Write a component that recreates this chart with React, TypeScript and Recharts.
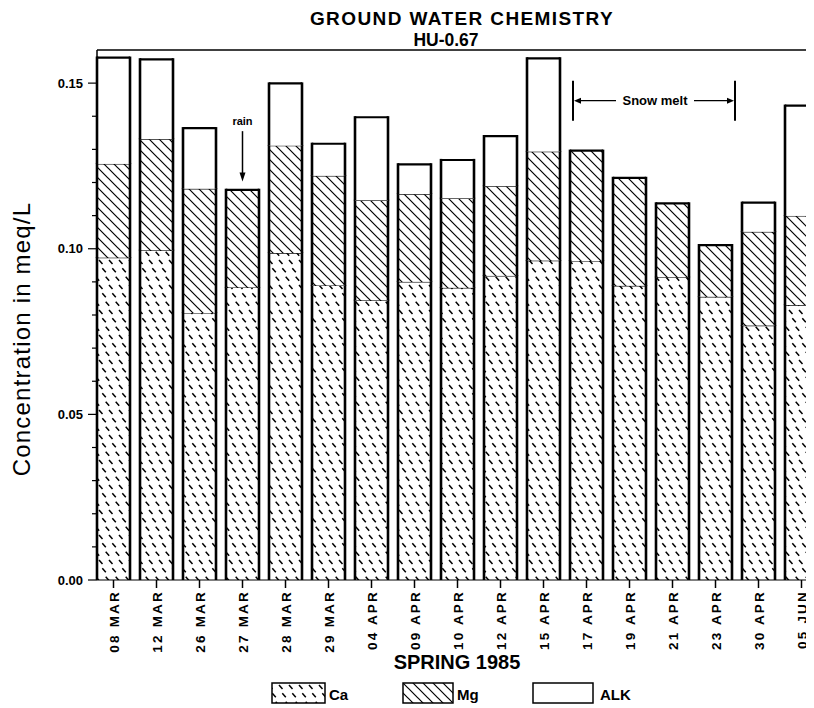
import React from "react";
import { BarChart, Bar, XAxis, YAxis, ReferenceLine } from "recharts";

const DATES = [
  "08 MAR", "12 MAR", "26 MAR", "27 MAR", "28 MAR", "29 MAR", "04 APR", "09 APR", "10 APR",
  "12 APR", "15 APR", "17 APR", "19 APR", "21 APR", "23 APR", "30 APR", "05 JUN",
];
const CA = [0.0973, 0.0995, 0.0806, 0.0883, 0.0987, 0.0889, 0.0844, 0.09, 0.0882, 0.0918, 0.0964, 0.0963, 0.0888, 0.0914, 0.0855, 0.0768, 0.083];
const MG = [0.0283, 0.0336, 0.0375, 0.0295, 0.0324, 0.0331, 0.0302, 0.0265, 0.027, 0.0271, 0.0329, 0.0333, 0.0326, 0.0223, 0.0156, 0.0283, 0.0269];
const ALK = [0.0321, 0.0241, 0.0183, 0, 0.0188, 0.0097, 0.0251, 0.009, 0.0116, 0.0151, 0.0282, 0, 0, 0, 0, 0.0088, 0.0333];

const Y_TICKS = [0, 0.01, 0.02, 0.03, 0.04, 0.05, 0.06, 0.07, 0.08, 0.09, 0.1, 0.11, 0.12, 0.13, 0.14, 0.15];
const Y_MAJOR = [0, 0.05, 0.1, 0.15];

const data = DATES.map((date, i) => ({ date, ca: CA[i], mg: MG[i], alk: ALK[i] }));

const FONT = '"Liberation Sans", Arial, Helvetica, sans-serif';

// one stacked segment: pattern fill, heavy side lines, lighter top line
function Segment(props: any) {
  const { x, y, width, height, fill, topW } = props;
  if (!height || height <= 0) return <g />;
  const r = x + width;
  const b = y + height;
  return (
    <g>
      <rect x={x} y={y} width={width} height={height} fill={fill} />
      <line x1={x} y1={y} x2={r} y2={y} stroke="#000" strokeWidth={topW} />
      <line x1={x} y1={y - topW / 2} x2={x} y2={b} stroke="#000" strokeWidth={2.6} />
      <line x1={r} y1={y - topW / 2} x2={r} y2={b} stroke="#000" strokeWidth={2.6} />
    </g>
  );
}

const caShape = (p: any) => <Segment {...p} topW={1.2} />;
const mgShape = (p: any) => <Segment {...p} topW={p.payload && p.payload.alk > 0 ? 1.2 : 2.2} />;
const alkShape = (p: any) => <Segment {...p} topW={2.2} />;

function YTick({ x, y, payload }: any) {
  const v = payload.value;
  const major = Y_MAJOR.some((m) => Math.abs(m - v) < 1e-9);
  return (
    <g>
      <line x1={x - (major ? 9 : 5)} x2={x} y1={y} y2={y} stroke="#000" strokeWidth={1.2} />
      {major && (
        <text x={x - 14} y={y} dy={4.5} textAnchor="end" fontSize={13} fontWeight="bold" fontFamily={FONT} fill="#000">
          {v.toFixed(2)}
        </text>
      )}
    </g>
  );
}

function XTick({ x, y, payload }: any) {
  return (
    <text
      x={x}
      y={y}
      transform={`rotate(-90, ${x}, ${y})`}
      textAnchor="end"
      dy={5}
      fontSize={13.5}
      fontWeight="bold"
      letterSpacing={2.2}
      fontFamily={FONT}
      fill="#000"
    >
      {payload.value}
    </text>
  );
}

function RainArrow(p: any) {
  const x = p.x1;
  const top = Math.min(p.y1, p.y2);
  const bot = Math.max(p.y1, p.y2);
  return (
    <g>
      <text x={x} y={top - 6} textAnchor="middle" fontSize={11} fontWeight="bold" fontFamily={FONT} fill="#000">
        rain
      </text>
      <line x1={x} y1={top} x2={x} y2={bot - 8} stroke="#000" strokeWidth={1.5} />
      <polygon points={`${x - 3},${bot - 9} ${x + 3},${bot - 9} ${x},${bot}`} fill="#000" />
    </g>
  );
}

function SnowMelt(p: any) {
  const y = p.y1;
  const l = Math.min(p.x1, p.x2) - 13.5;
  const r = Math.max(p.x1, p.x2) + 19.5;
  const mid = (l + r) / 2;
  return (
    <g>
      <line x1={l} y1={y - 20} x2={l} y2={y + 20} stroke="#000" strokeWidth={2} />
      <line x1={r} y1={y - 20} x2={r} y2={y + 20} stroke="#000" strokeWidth={2} />
      <line x1={l + 6} y1={y} x2={mid - 38} y2={y} stroke="#000" strokeWidth={1.3} />
      <polygon points={`${l + 1},${y} ${l + 8},${y - 3} ${l + 8},${y + 3}`} fill="#000" />
      <line x1={mid + 40} y1={y} x2={r - 6} y2={y} stroke="#000" strokeWidth={1.3} />
      <polygon points={`${r - 1},${y} ${r - 8},${y - 3} ${r - 8},${y + 3}`} fill="#000" />
      <text x={mid + 1} y={y + 4.5} textAnchor="middle" fontSize={13} fontWeight="bold" fontFamily={FONT} fill="#000">
        Snow melt
      </text>
    </g>
  );
}

export default function App() {
  return (
    <div style={{ position: "relative", width: 806, height: 700, background: "#fff" }}>
      <BarChart
        width={806}
        height={700}
        data={data}
        margin={{ top: 42, right: -9, left: 29, bottom: 88 }}
      >
        <XAxis
          dataKey="date"
          height={40}
          padding={{ left: -5, right: 0 }}
          axisLine={{ stroke: "#000", strokeWidth: 1.2 }}
          tickLine={{ stroke: "#000", strokeWidth: 1.5 }}
          tickSize={8}
          tickMargin={2}
          interval={0}
          tick={<XTick />}
        />
        <YAxis
          type="number"
          width={60}
          domain={[0, 0.16]}
          ticks={Y_TICKS}
          interval={0}
          axisLine={{ stroke: "#000", strokeWidth: 1.5 }}
          tickLine={false}
          tickSize={0}
          tickMargin={0}
          tick={<YTick />}
        />
        <ReferenceLine y={0.16} stroke="#000" strokeWidth={1.5} />
        <Bar dataKey="ca" stackId="s" barSize={33} fill="url(#caHatch)" shape={caShape} isAnimationActive={false} />
        <Bar dataKey="mg" stackId="s" barSize={33} fill="url(#mgHatch)" shape={mgShape} isAnimationActive={false} />
        <Bar dataKey="alk" stackId="s" barSize={33} fill="#fff" shape={alkShape} isAnimationActive={false} />
        <ReferenceLine
          segment={[{ x: "27 MAR", y: 0.1355 }, { x: "27 MAR", y: 0.1203 }]}
          shape={RainArrow}
        />
        <ReferenceLine
          segment={[{ x: "17 APR", y: 0.1447 }, { x: "23 APR", y: 0.1447 }]}
          shape={SnowMelt}
        />
      </BarChart>

      <svg width={806} height={700} style={{ position: "absolute", left: 0, top: 0, pointerEvents: "none" }}>
        <defs>
          <pattern id="caHatch" patternUnits="userSpaceOnUse" width={10} height={25}>
            <rect width={10} height={25} fill="#fff" />
            <path d="M1,2 L4.5,6 M4.3,10.3 L7.8,14.3 M7.7,18.7 L11.2,22.7 M-2.3,18.7 L1.2,22.7" stroke="#000" strokeWidth={1.5} />
          </pattern>
          <pattern id="mgHatch" patternUnits="userSpaceOnUse" width={10} height={10}>
            <rect width={10} height={10} fill="#fff" />
            <path d="M-1,-1 L11,11 M8,-2 L12,2 M-2,8 L2,12" stroke="#000" strokeWidth={1.2} />
          </pattern>
        </defs>
        <text x={454} y={17} textAnchor="middle" fontSize={19} fontWeight="bold" letterSpacing={1.4} fontFamily={FONT} fill="#000">
          GROUND WATER CHEMISTRY
        </text>
        <text x={438} y={37.5} textAnchor="middle" fontSize={17.5} fontWeight="bold" fontFamily={FONT} fill="#000">
          HU-0.67
        </text>
        <text
          x={13}
          y={331}
          transform="rotate(-90, 13, 331)"
          textAnchor="middle"
          dominantBaseline="central"
          fontSize={24}
          letterSpacing={1.2}
          fontFamily={FONT}
          fill="#000"
        >
          Concentration in meq/L
        </text>
        <text x={449} y={661} textAnchor="middle" fontSize={20} fontWeight="bold" fontFamily={FONT} fill="#000">
          SPRING 1985
        </text>
        <rect x={264} y={675} width={53} height={20} fill="url(#caHatch)" stroke="#000" strokeWidth={1.5} />
        <text x={321} y={692} fontSize={15} fontWeight="bold" fontFamily={FONT} fill="#000">Ca</text>
        <rect x={395} y={675} width={50} height={20} fill="url(#mgHatch)" stroke="#000" strokeWidth={1.5} />
        <text x={449} y={692} fontSize={15} fontWeight="bold" fontFamily={FONT} fill="#000">Mg</text>
        <rect x={525} y={675} width={60} height={20} fill="#fff" stroke="#000" strokeWidth={1.5} />
        <text x={592} y={692} fontSize={15} fontWeight="bold" fontFamily={FONT} fill="#000">ALK</text>
      </svg>
    </div>
  );
}
